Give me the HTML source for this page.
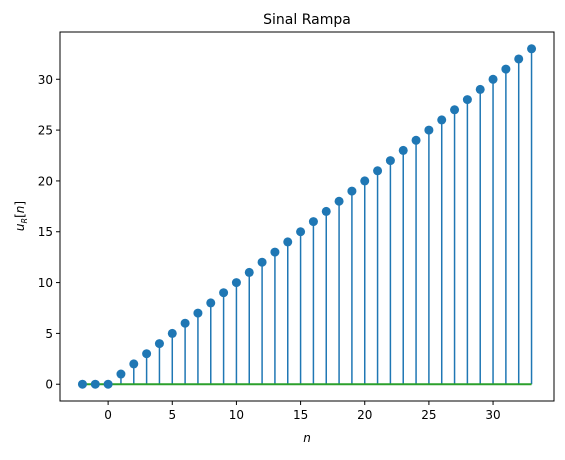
<!DOCTYPE html>
<html><head><meta charset="utf-8"><style>
body{margin:0;background:#fff}
text{font-family:"DejaVu Sans","Liberation Sans",sans-serif;fill:#000}
</style></head><body>
<svg id="chart" width="565" height="455" xmlns="http://www.w3.org/2000/svg">
<text x="307" y="24" font-size="14" text-anchor="middle">Sinal Rampa</text>
<g id="marks"></g>
<rect x="60" y="32" width="494" height="369" fill="none" stroke="#000" stroke-width="1"/>
<g id="ticks"></g>
<text x="307" y="442" font-size="12" font-style="italic" text-anchor="middle">n</text>
<text transform="translate(24,216) rotate(-90)" font-size="12" text-anchor="middle"><tspan font-style="italic">u</tspan><tspan font-size="8" dy="3" font-style="italic">R</tspan><tspan dy="-3">[</tspan><tspan font-style="italic">n</tspan><tspan>]</tspan></text>
</svg>
<script>
const nValues=[-2,-1,0,1,2,3,4,5,6,7,8,9,10,11,12,13,14,15,16,17,18,19,20,21,22,23,24,25,26,27,28,29,30,31,32,33];
const uValues=[0,0,0,1,2,3,4,5,6,7,8,9,10,11,12,13,14,15,16,17,18,19,20,21,22,23,24,25,26,27,28,29,30,31,32,33];
const xTicks=[0,5,10,15,20,25,30];
const yTicks=[0,5,10,15,20,25,30];
const NS="http://www.w3.org/2000/svg";
const X0=-3.75,X1=34.75,Y0=-1.65,Y1=34.65;
const L=60,R=554,T=32,B=401;
function sx(v){return L+(v-X0)/(X1-X0)*(R-L);}
function sy(v){return B-(v-Y0)/(Y1-Y0)*(B-T);}
function mk(tag,attrs,parent){const e=document.createElementNS(NS,tag);for(const k in attrs)e.setAttribute(k,attrs[k]);parent.appendChild(e);return e;}
const marks=document.getElementById('marks');
nValues.forEach((n,i)=>{
  const s=mk('line',{x1:sx(n),x2:sx(n),y1:sy(0),y2:sy(uValues[i]),stroke:'#1f77b4','stroke-width':1.5},marks);
  
  
});
const base=mk('line',{x1:sx(nValues[0]),x2:sx(nValues[nValues.length-1]),y1:sy(0),y2:sy(0),stroke:'#2ca02c','stroke-width':2},marks);


nValues.forEach((n,i)=>{
  const c=mk('circle',{cx:sx(n),cy:sy(uValues[i]),r:4.5,fill:'#1f77b4'},marks);
  
  
});
const tk=document.getElementById('ticks');
xTicks.forEach(v=>{
  const l=mk('line',{x1:sx(v),x2:sx(v),y1:B,y2:B+4,stroke:'#000'},tk);
  
  
  const t=mk('text',{x:sx(v),y:B+18,'font-size':12,'text-anchor':'middle'},tk);
  t.textContent=v;
  
  
});
yTicks.forEach(v=>{
  const l=mk('line',{x1:L-4,x2:L,y1:sy(v),y2:sy(v),stroke:'#000'},tk);
  
  
  const t=mk('text',{x:L-7,y:sy(v)+4.5,'font-size':12,'text-anchor':'end'},tk);
  t.textContent=v;
  
  
});
</script>
</body></html>
